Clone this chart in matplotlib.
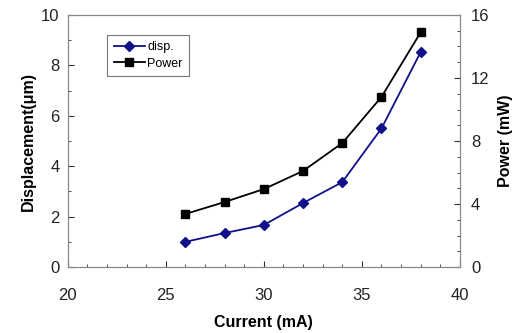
import matplotlib
matplotlib.use("Agg")
import matplotlib.pyplot as plt
from matplotlib.ticker import MultipleLocator

plt.rcParams['font.family'] = ['Liberation Sans', 'DejaVu Sans']

current = [26, 28, 30, 32, 34, 36, 38]
disp = [1.0, 1.35, 1.67, 2.54, 3.37, 5.5, 8.53]
power = [3.37, 4.13, 4.95, 6.1, 7.87, 10.8, 14.9]

fig = plt.figure(figsize=(5.22, 3.33), dpi=100)
ax = fig.add_axes([0.130, 0.198, 0.751, 0.757])
ax2 = ax.twinx()

l1, = ax.plot(current, disp, color='#10108a', marker='D', markersize=5, lw=1.3, label='disp.')
l2, = ax2.plot(current, power, color='black', marker='s', markersize=6, lw=1.3, label='Power')

ax.set_xlim(20, 40)
ax.set_ylim(0, 10)
ax2.set_ylim(0, 16)
ax.xaxis.set_major_locator(MultipleLocator(5))
ax.xaxis.set_minor_locator(MultipleLocator(1))
ax.yaxis.set_major_locator(MultipleLocator(2))
ax.yaxis.set_minor_locator(MultipleLocator(1))
ax2.yaxis.set_major_locator(MultipleLocator(4))
ax2.yaxis.set_minor_locator(MultipleLocator(1))

for a in (ax, ax2):
    a.tick_params(which='both', direction='in', labelsize=12, colors='#333333', labelcolor='#222222')
    a.tick_params(which='major', length=4)
    a.tick_params(which='minor', length=2.5)
    for s in a.spines.values():
        s.set_color('#888888')
ax.tick_params(axis='x', pad=15)
ax.tick_params(axis='y', pad=6)
ax2.tick_params(axis='y', pad=8)

ax.set_xlabel('Current (mA)', fontsize=11.5, fontweight='bold', labelpad=9)
ax.set_ylabel('Displacement(\u03bcm)', fontsize=11.5, fontweight='bold', labelpad=4)
ax2.set_ylabel('Power (mW)', fontsize=11.5, fontweight='bold', labelpad=6)

leg = ax.legend(handles=[l1, l2], loc='upper left', bbox_to_anchor=(0.085, 0.945),
                fontsize=9, frameon=True, fancybox=False, edgecolor='#555555',
                handlelength=2.5, borderpad=0.5, labelspacing=0.35, handletextpad=0.2)
leg.get_frame().set_linewidth(0.8)

fig.savefig('out.png', dpi=100)
